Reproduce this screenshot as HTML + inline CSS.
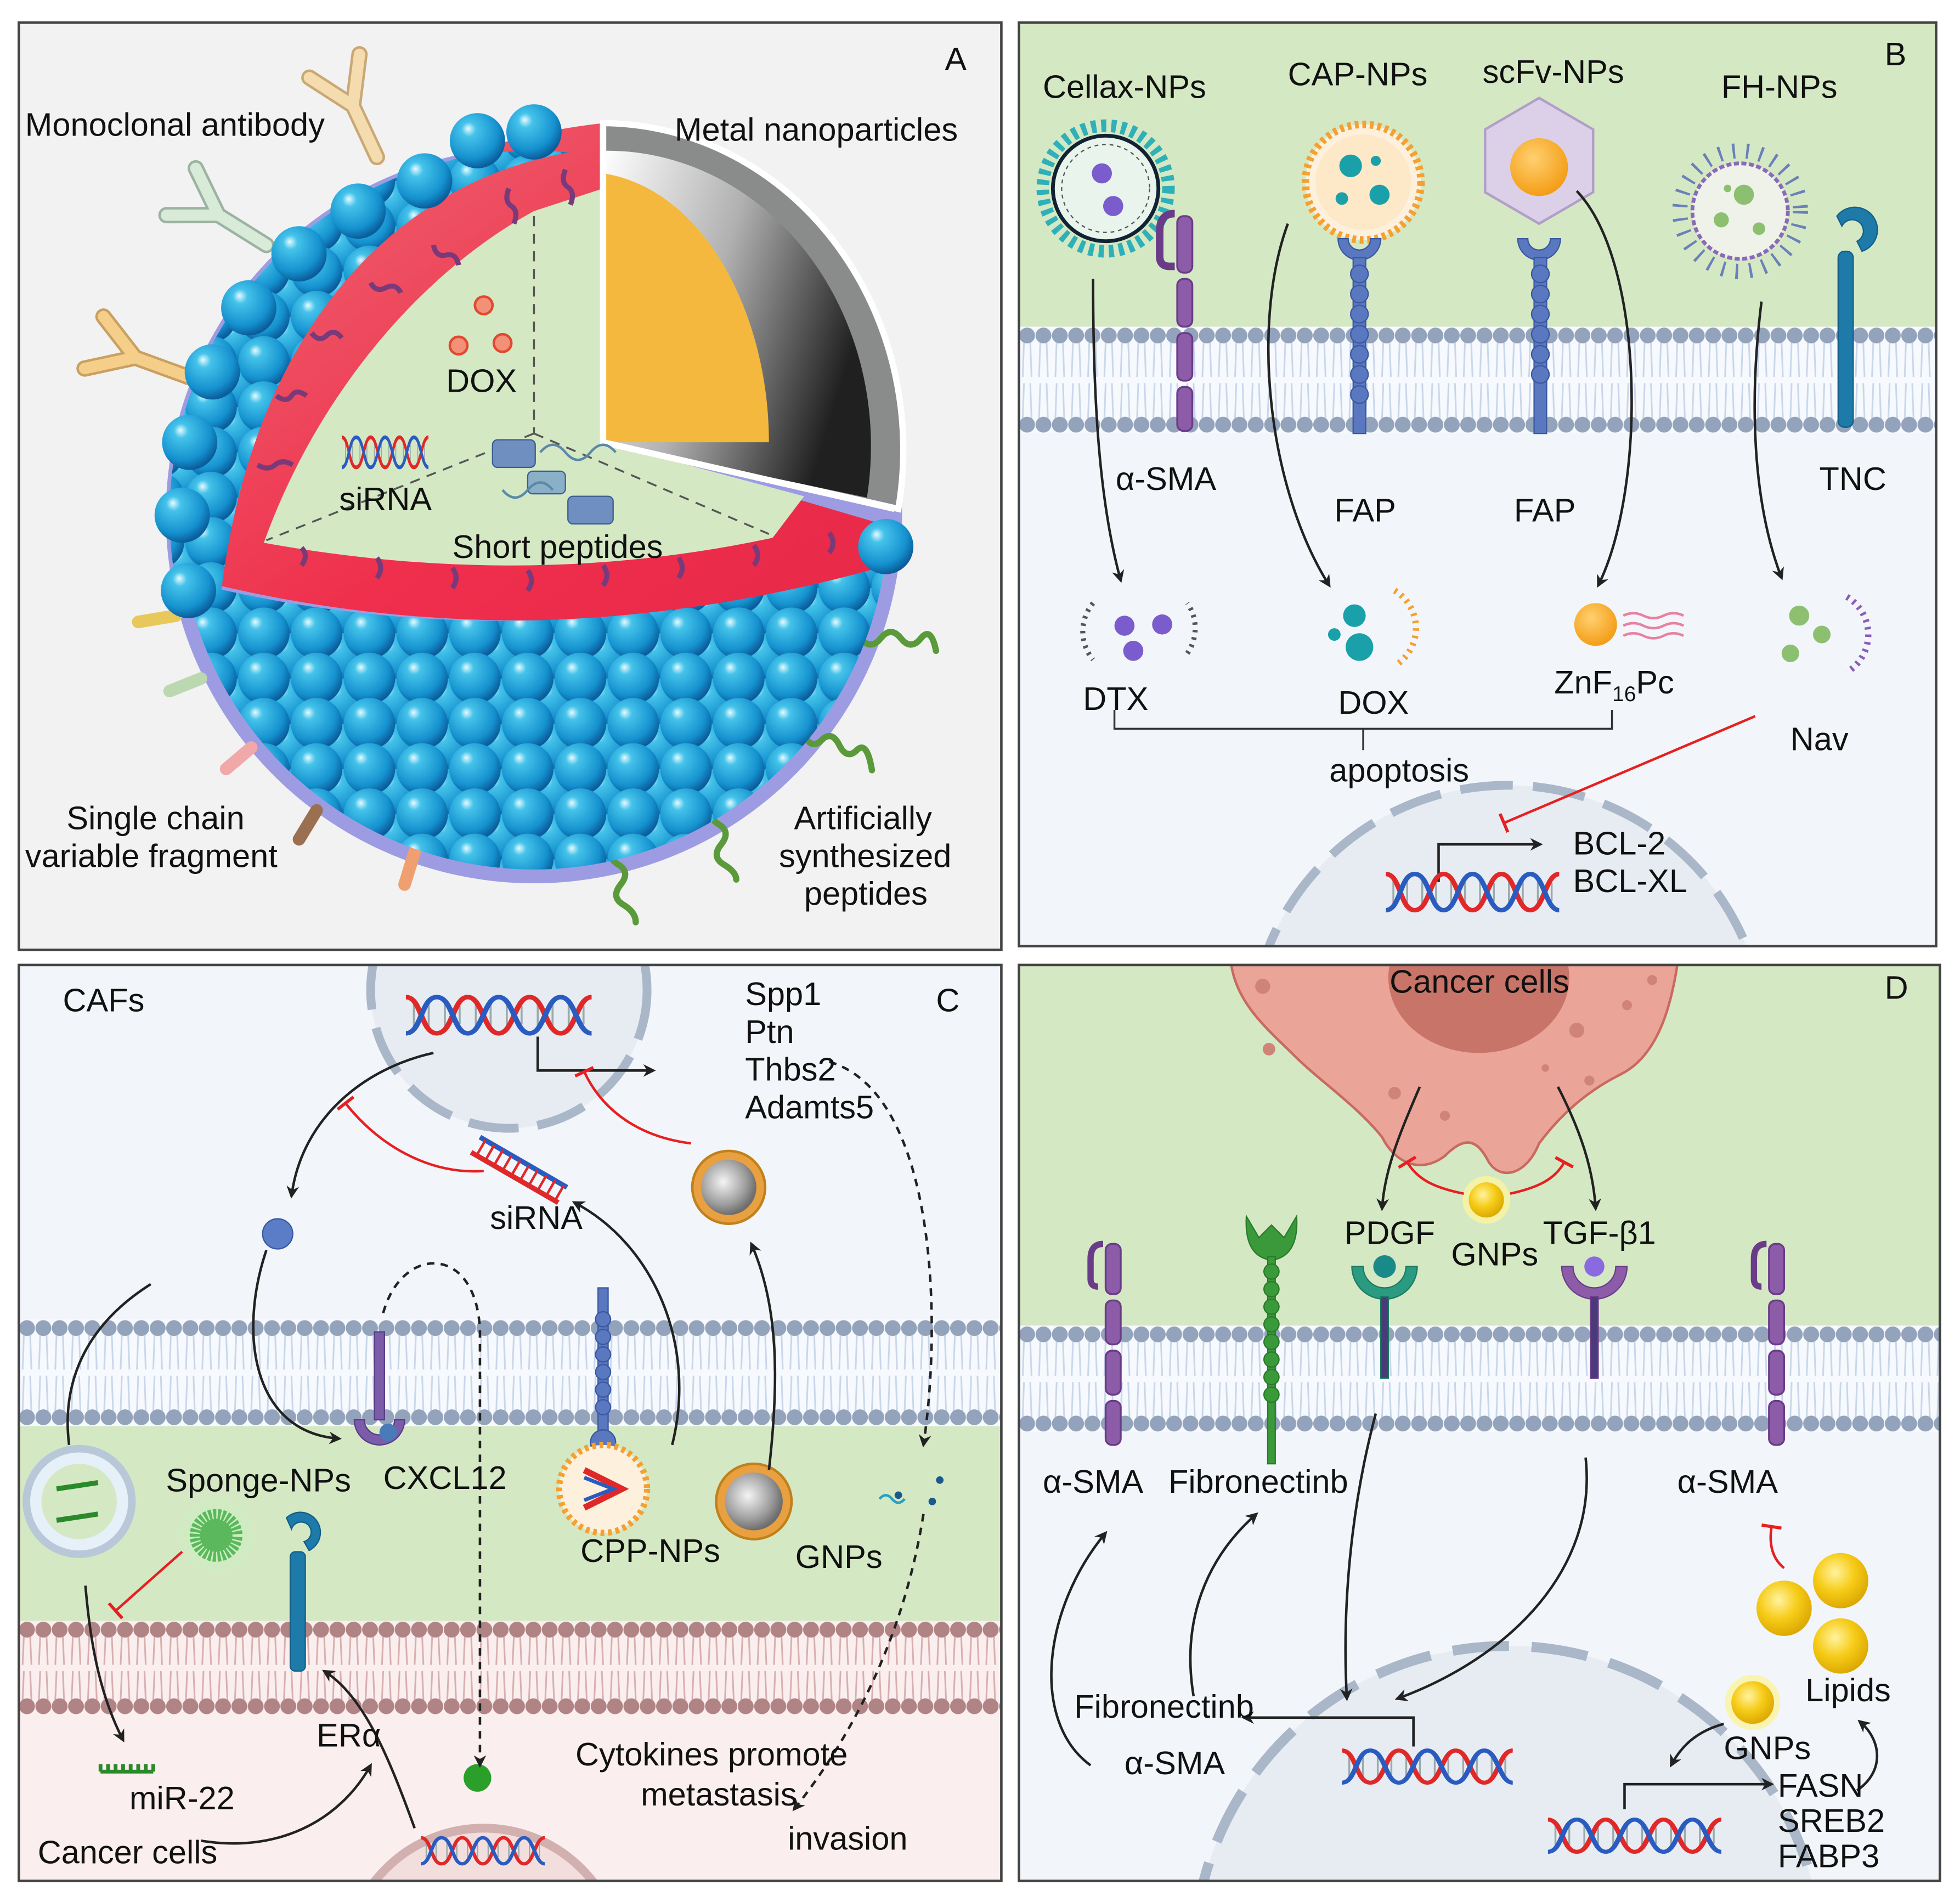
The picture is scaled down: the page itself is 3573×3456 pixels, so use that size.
<!DOCTYPE html>
<html><head><meta charset="utf-8"><style>
html,body{margin:0;padding:0;background:#fff;width:3573px;height:3456px;overflow:hidden}
svg{display:block;position:absolute;left:0;top:0}
text{font-family:"Liberation Sans",sans-serif;fill:#111;font-size:26px}
</style></head><body>
<svg width="3573" height="3456" viewBox="0 0 1560 1509" preserveAspectRatio="none" xmlns="http://www.w3.org/2000/svg">
<defs>
<radialGradient id="bg" cx="0.4" cy="0.35" r="0.65" fx="0.33" fy="0.28"><stop offset="0" stop-color="#e8fbff"/><stop offset="0.2" stop-color="#45c3ea"/><stop offset="0.75" stop-color="#1592cf"/><stop offset="1" stop-color="#0b5d9c"/></radialGradient>
<pattern id="balls" patternUnits="userSpaceOnUse" width="42" height="36" x="0" y="0">
<circle cx="21" cy="18" r="20.5" fill="url(#bg)"/><circle cx="0" cy="0" r="20.5" fill="url(#bg)"/><circle cx="42" cy="0" r="20.5" fill="url(#bg)"/><circle cx="0" cy="36" r="20.5" fill="url(#bg)"/><circle cx="42" cy="36" r="20.5" fill="url(#bg)"/>
</pattern>
<pattern id="memB" patternUnits="userSpaceOnUse" width="13" height="85">
<rect width="13" height="85" fill="#f6f9fd"/>
<path d="M4 12 L3 40 M9 12 L10 40 M4 45 L3 73 M9 45 L10 73" stroke="#c9d6ea" stroke-width="1.3" fill="none"/>
<circle cx="6.5" cy="7" r="6.3" fill="#93a3bb"/><circle cx="6.5" cy="78" r="6.3" fill="#93a3bb"/>
</pattern>
<pattern id="memP" patternUnits="userSpaceOnUse" width="13" height="75">
<rect width="13" height="75" fill="#fbeeee"/>
<path d="M4 12 L3 35 M9 12 L10 35 M4 40 L3 63 M9 40 L10 63" stroke="#d7aeae" stroke-width="1.3" fill="none"/>
<circle cx="6.5" cy="7" r="6.3" fill="#b08484"/><circle cx="6.5" cy="68" r="6.3" fill="#b08484"/>
</pattern>
<linearGradient id="redg" x1="0" y1="0" x2="1" y2="1"><stop offset="0" stop-color="#ee6a74"/><stop offset="0.6" stop-color="#ef2f4c"/><stop offset="1" stop-color="#e82848"/></linearGradient>
<linearGradient id="metal" x1="0" y1="0" x2="1" y2="0.4"><stop offset="0" stop-color="#ffffff"/><stop offset="0.5" stop-color="#b0b0b0"/><stop offset="1" stop-color="#202020"/></linearGradient>
<radialGradient id="gold" cx="0.4" cy="0.35" r="0.7"><stop offset="0" stop-color="#fff3a0"/><stop offset="0.5" stop-color="#f6cc18"/><stop offset="1" stop-color="#d9a400"/></radialGradient>
<radialGradient id="orng" cx="0.4" cy="0.35" r="0.7"><stop offset="0" stop-color="#ffd070"/><stop offset="1" stop-color="#f39a10"/></radialGradient>
<radialGradient id="gnp" cx="0.4" cy="0.4" r="0.6"><stop offset="0" stop-color="#f4f4f4"/><stop offset="0.7" stop-color="#9c9c9c"/><stop offset="1" stop-color="#6e6e6e"/></radialGradient>
<marker id="ar" markerWidth="10" markerHeight="10" refX="8" refY="5" orient="auto" markerUnits="userSpaceOnUse"><path d="M0,0 L10,5 L0,10 L3,5 Z" fill="#222"/></marker>
<marker id="tr" markerWidth="4" markerHeight="16" refX="2" refY="8" orient="auto" markerUnits="userSpaceOnUse"><path d="M2,0 L2,16" stroke="#e62020" stroke-width="2.5"/></marker>
<symbol id="dna" viewBox="0 0 140 40" preserveAspectRatio="none">
<g stroke="#9aa" stroke-width="1.5"><path d="M6 10V30M17 6V34M29 8V32M40 12V28M52 10V30M63 6V34M75 8V32M86 12V28M98 10V30M109 6V34M121 8V32M132 12V28"/></g>
<path d="M0,4 C12,4 11,36 23,36 S35,4 46,4 S58,36 69,36 S81,4 92,4 S104,36 115,36 S127,4 138,4" fill="none" stroke="#e02828" stroke-width="4"/>
<path d="M0,36 C12,36 11,4 23,4 S35,36 46,36 S58,4 69,4 S81,36 92,36 S104,4 115,4 S127,36 138,36" fill="none" stroke="#2a5bc0" stroke-width="4"/>
</symbol>
<clipPath id="cA"><rect x="15" y="18" width="782" height="738"/></clipPath>
<clipPath id="cB"><rect x="811" y="18" width="730" height="735"/></clipPath>
<clipPath id="cC"><rect x="15" y="768" width="782" height="729"/></clipPath>
<clipPath id="cD"><rect x="811" y="768" width="733" height="729"/></clipPath>
<clipPath id="sph"><circle cx="425" cy="410" r="282"/></clipPath>
<clipPath id="sph2"><circle cx="425" cy="410" r="290"/></clipPath>
</defs>
<rect width="1560" height="1509" fill="#fff"/>

<!-- PANEL A -->
<rect x="15" y="18" width="782" height="738" fill="#f2f2f2" stroke="#444" stroke-width="2"/>
<g clip-path="url(#cA)">
<circle cx="425" cy="410" r="293" fill="#9d9ce2"/>
<g stroke-linecap="round" fill="none">
<g transform="translate(300,125) rotate(-25)" stroke="#c9a875"><path d="M0 0V-45M0-45L-22-80M0-45L22-80" stroke-width="13"/><path d="M0 0V-45M0-45L-22-80M0-45L22-80" stroke="#f5dcae" stroke-width="9"/></g>
<g transform="translate(212,195) rotate(-58)" stroke="#9bb3a0"><path d="M0 0V-45M0-45L-22-80M0-45L22-80" stroke-width="13"/><path d="M0 0V-45M0-45L-22-80M0-45L22-80" stroke="#d8ead8" stroke-width="9"/></g>
<g transform="translate(150,300) rotate(-70)" stroke="#c9a060"><path d="M0 0V-45M0-45L-22-80M0-45L22-80" stroke-width="13"/><path d="M0 0V-45M0-45L-22-80M0-45L22-80" stroke="#f5cf8a" stroke-width="9"/></g>
<path d="M140 490 L110 495" stroke="#e8c85a" stroke-width="10"/>
<path d="M160 540 L135 550" stroke="#bcd8b0" stroke-width="10"/>
<path d="M200 595 L180 612" stroke="#f0a8a8" stroke-width="10"/>
<path d="M252 645 L238 668" stroke="#9a7050" stroke-width="10"/>
<path d="M330 678 L322 704" stroke="#f0a070" stroke-width="10"/>
</g>
<g fill="none" stroke="#5a9a3a" stroke-width="5" stroke-linecap="round">
<path d="M685 508 q8 10 16 0 t16 0 t16 0 t12 10"/>
<path d="M640 585 q6 12 14 4 t14 4 t14 4 t12 16"/>
<path d="M570 640 q-8 10 2 16 t2 16 t2 16 t10 12"/>
<path d="M490 672 q-8 10 2 16 t2 16 t2 16 t10 14"/>
</g>
<path d="M150,445 C150,250 280,120 480,98 L480,352 L712,420 L705,455 Q420,530 150,460 Z" fill="url(#redg)"/>
<!-- upper-left ball region -->
<path d="M100,480 L100,60 L480,60 L480,118 C330,130 200,250 175,480 Z" fill="url(#balls)" clip-path="url(#sph2)"/>
<path d="M425,168 L480,150 L480,352 L640,395 L615,428 Q420,470 210,432 C250,320 330,220 425,168 Z" fill="#d5e8c4"/>
<g stroke="#555" stroke-dasharray="8 6" stroke-width="1.5"><path d="M425,172V345M425,345L212,430M425,345L612,425"/></g>
<g fill="none" stroke="#7a3a7a" stroke-width="4">
<path d="M205 370 q8 5 14 0 t14 0"/><path d="M220 315 q8 6 12 0 t12 0"/><path d="M248 265 q6 8 12 2 t12 2"/><path d="M295 225 q4 8 12 4 t12 4"/><path d="M345 195 q2 10 10 8 t10 8"/><path d="M405 150 q-4 10 2 14 t2 14"/><path d="M450 135 q-4 10 2 14 t2 14"/>
<path d="M240 450 q6 -8 0 -14"/><path d="M300 460 q6 -8 0 -16"/><path d="M360 468 q6 -8 0 -16"/><path d="M420 470 q6 -8 0 -16"/><path d="M480 466 q6 -8 0 -16"/><path d="M540 460 q6 -8 0 -16"/><path d="M600 450 q6 -8 0 -16"/><path d="M660 440 q6 -8 0 -16"/>
</g>
<path d="M480,98 A240,260 0 0 1 715,405 L480,352 Z" fill="#8a8c8c" stroke="#fff" stroke-width="5"/>
<path d="M480,120 A210,235 0 0 1 690,396 L480,352 Z" fill="url(#metal)"/>
<path d="M480,138 C560,150 612,250 612,352 L480,352 Z" fill="#f4b83e"/>
<path d="M480,98 V352 L712,405" fill="none" stroke="#fff" stroke-width="5"/>
<path d="M120,455 Q420,540 740,440 L740,740 L120,740 Z" fill="url(#balls)" clip-path="url(#sph)"/>
<g fill="url(#bg)">
<circle cx="150" cy="470" r="22"/><circle cx="145" cy="410" r="22"/><circle cx="151" cy="352" r="22"/><circle cx="169" cy="296" r="22"/><circle cx="198" cy="245" r="22"/><circle cx="238" cy="202" r="22"/><circle cx="285" cy="168" r="22"/><circle cx="338" cy="144" r="22"/><circle cx="380" cy="112" r="22"/><circle cx="425" cy="105" r="22"/>
<circle cx="705" cy="435" r="22"/>
</g>
<g fill="#f39078" stroke="#e04a30" stroke-width="2"><circle cx="385" cy="243" r="7"/><circle cx="365" cy="275" r="7"/><circle cx="400" cy="273" r="7"/></g>
<use href="#dna" x="272" y="345" width="70" height="30"/>
<g fill="#6e8fc0" stroke="#3c5e90" stroke-width="1"><rect x="392" y="350" width="34" height="22" rx="4"/><rect x="452" y="395" width="36" height="22" rx="4"/><rect x="420" y="375" width="30" height="18" rx="4" fill="#8ab0c8"/></g>
<path d="M430 360 q10 -12 20 0 t20 0 t20 0 M400 390 q10 12 20 0 t20 0" fill="none" stroke="#5a8aa8" stroke-width="2"/>
<text x="752" y="56">A</text>
<text x="20" y="108">Monoclonal antibody</text>
<text x="537" y="112">Metal nanoparticles</text>
<text x="355" y="312">DOX</text>
<text x="270" y="406">siRNA</text>
<text x="360" y="444">Short peptides</text>
<text x="53" y="660">Single chain</text>
<text x="20" y="690">variable fragment</text>
<text x="632" y="660">Artificially</text>
<text x="620" y="690">synthesized</text>
<text x="640" y="720">peptides</text>
</g>

<!-- PANEL B -->
<g clip-path="url(#cB)">
<rect x="811" y="18" width="730" height="735" fill="#f2f6fa"/>
<rect x="811" y="18" width="730" height="250" fill="#d5e8c4"/>
<g transform="translate(811,260)"><rect width="730" height="85" fill="url(#memB)"/></g>
<circle cx="1200" cy="830" r="205" fill="#e6ecf2" stroke="#a9b7c8" stroke-width="7" stroke-dasharray="42 16"/>
<circle cx="880" cy="150" r="50" fill="none" stroke="#2fb0b8" stroke-width="10" stroke-dasharray="4 4"/>
<circle cx="880" cy="150" r="42" fill="#e8f4ec" stroke="#123" stroke-width="3"/>
<circle cx="880" cy="150" r="35" fill="none" stroke="#555" stroke-width="1" stroke-dasharray="3 3"/>
<circle cx="877" cy="138" r="8" fill="#7a5ccc"/><circle cx="886" cy="164" r="8" fill="#7a5ccc"/>
<g fill="#8c5ca8" stroke="#6a3c88" stroke-width="1.5"><path d="M935 170 q-12 0 -12 14 v20 q0 8 8 8 h4" fill="none" stroke-width="6"/><rect x="937" y="172" width="12" height="45" rx="5"/><rect x="937" y="222" width="12" height="38" rx="5"/><rect x="937" y="265" width="12" height="38" rx="5"/><rect x="937" y="308" width="12" height="35" rx="5"/></g>
<circle cx="1085" cy="145" r="46" fill="#fdf0dc" stroke="#f5a030" stroke-width="6" stroke-dasharray="3 3"/>
<circle cx="1085" cy="145" r="38" fill="#fde8c8"/>
<g fill="#1aa0a8"><circle cx="1075" cy="132" r="9"/><circle cx="1098" cy="155" r="8"/><circle cx="1068" cy="158" r="5"/><circle cx="1095" cy="128" r="4"/></g>
<g fill="#5a78c0" stroke="#3a58a0"><path d="M1065 190 a17 17 0 0 0 34 0 h-8 a9 9 0 0 1 -18 0 z"/><rect x="1077" y="205" width="10" height="140"/>
<circle cx="1082" cy="218" r="7"/><circle cx="1082" cy="234" r="7"/><circle cx="1082" cy="250" r="7"/><circle cx="1082" cy="266" r="7"/><circle cx="1082" cy="282" r="7"/><circle cx="1082" cy="298" r="7"/><circle cx="1082" cy="314" r="7"/></g>
<polygon points="1225,78 1268,103 1268,153 1225,178 1182,153 1182,103" fill="#dcd0e8" stroke="#b0a0c8" stroke-width="2"/>
<circle cx="1225" cy="133" r="23" fill="url(#orng)"/>
<g fill="#5a78c0" stroke="#3a58a0"><path d="M1208 190 a17 17 0 0 0 34 0 h-8 a9 9 0 0 1 -18 0 z"/><rect x="1221" y="205" width="10" height="140"/>
<circle cx="1226" cy="218" r="7"/><circle cx="1226" cy="234" r="7"/><circle cx="1226" cy="250" r="7"/><circle cx="1226" cy="266" r="7"/><circle cx="1226" cy="282" r="7"/><circle cx="1226" cy="298" r="7"/></g>
<circle cx="1385" cy="168" r="48" fill="none" stroke="#6a80b8" stroke-width="12" stroke-dasharray="2 9"/>
<circle cx="1385" cy="168" r="38" fill="#eef2e8" stroke="#8a6ab8" stroke-width="3" stroke-dasharray="4 2"/>
<g fill="#8cc070"><circle cx="1388" cy="155" r="8"/><circle cx="1370" cy="175" r="6"/><circle cx="1400" cy="182" r="5"/><circle cx="1375" cy="150" r="3"/></g>
<g fill="#1e7aa8" stroke="#125e88"><path d="M1462 172 a18 18 0 1 1 20 28 l-4 -8 a9 9 0 1 0 -12 -12 z"/><rect x="1463" y="200" width="12" height="140" rx="5"/></g>
<g fill="none" stroke="#222" stroke-width="2" marker-end="url(#ar)">
<path d="M870 222 C870 320 875 400 892 462"/>
<path d="M1025 178 C995 260 1010 390 1058 466"/>
<path d="M1255 152 C1310 210 1310 390 1272 466"/>
<path d="M1402 240 C1392 320 1395 400 1418 460"/>
<path d="M1145 702 V672 H1226"/>
</g>
<g fill="#7a5ccc"><circle cx="895" cy="498" r="8"/><circle cx="925" cy="497" r="8"/><circle cx="902" cy="518" r="8"/></g>
<path d="M870 480 a35 35 0 0 0 0 45 M945 520 a35 35 0 0 0 0 -40" fill="none" stroke="#555" stroke-width="4" stroke-dasharray="2 4"/>
<g fill="#1aa0a8"><circle cx="1078" cy="490" r="9"/><circle cx="1082" cy="515" r="11"/><circle cx="1062" cy="505" r="5"/></g>
<path d="M1110 470 a35 35 0 0 1 0 60" fill="none" stroke="#f5a030" stroke-width="5" stroke-dasharray="2 4"/>
<circle cx="1270" cy="497" r="17" fill="url(#orng)"/>
<g fill="none" stroke="#e880a0" stroke-width="2"><path d="M1292 490 q8 -4 16 0 t16 0 t16 0"/><path d="M1292 498 q8 -4 16 0 t16 0 t16 0"/><path d="M1292 506 q8 -4 16 0 t16 0 t16 0"/></g>
<g fill="#8cc070"><circle cx="1432" cy="490" r="8"/><circle cx="1450" cy="505" r="7"/><circle cx="1425" cy="520" r="7"/></g>
<path d="M1470 475 a35 35 0 0 1 0 60" fill="none" stroke="#8a5cb8" stroke-width="5" stroke-dasharray="2 4"/>
<path d="M887 565 V580 H1283 V565 M1085 580 V597" fill="none" stroke="#333" stroke-width="1.5"/>
<path d="M1397 570 L1197 655" stroke="#e62020" stroke-width="2" marker-end="url(#tr)"/>
<use href="#dna" x="1103" y="692" width="140" height="36"/>
<text x="1500" y="52">B</text>
<text x="830" y="78">Cellax-NPs</text>
<text x="1025" y="68">CAP-NPs</text>
<text x="1180" y="66">scFv-NPs</text>
<text x="1370" y="78">FH-NPs</text>
<text x="888" y="390">α-SMA</text>
<text x="1062" y="415">FAP</text>
<text x="1205" y="415">FAP</text>
<text x="1448" y="390">TNC</text>
<text x="862" y="565">DTX</text>
<text x="1065" y="568">DOX</text>
<text x="1237" y="552">ZnF<tspan font-size="17" dy="6">16</tspan><tspan dy="-6">Pc</tspan></text>
<text x="1425" y="597">Nav</text>
<text x="1058" y="622">apoptosis</text>
<text x="1252" y="680">BCL-2</text>
<text x="1252" y="710">BCL-XL</text>
</g>
<rect x="811" y="18" width="730" height="735" fill="none" stroke="#444" stroke-width="2"/>

<!-- PANEL C -->
<g clip-path="url(#cC)">
<rect x="15" y="768" width="782" height="729" fill="#f2f5fa"/>
<rect x="15" y="1130" width="782" height="165" fill="#d5e8c4"/>
<rect x="15" y="1290" width="782" height="210" fill="#fbeeee"/>
<g transform="translate(15,1050)"><rect width="782" height="85" fill="url(#memB)"/></g>
<g transform="translate(15,1290)"><rect width="782" height="75" fill="url(#memP)"/></g>
<circle cx="405" cy="788" r="110" fill="#e6ecf2" stroke="#a9b7c8" stroke-width="7" stroke-dasharray="40 15"/>
<circle cx="385" cy="1565" r="110" fill="#f3dede" stroke="#d2b0b0" stroke-width="7"/>
<use href="#dna" x="323" y="790" width="150" height="36"/>
<use href="#dna" x="335" y="1460" width="100" height="26"/>
<g transform="translate(382,905) rotate(30)"><path d="M0 0H80M0 14H80" stroke-width="4" stroke="#2a5bc0"/><path d="M0 14H80" stroke="#e02828" stroke-width="4"/><path d="M5 0V14M13 0V14M21 0V14M29 0V14M37 0V14M45 0V14M53 0V14M61 0V14M69 0V14M77 0V14" stroke="#e02828" stroke-width="2"/></g>
<circle cx="221" cy="982" r="12" fill="#5b7cc6" stroke="#3a58a0"/>
<circle cx="580" cy="945" r="29" fill="#e8a040" stroke="#c0801a" stroke-width="2"/><circle cx="580" cy="945" r="22" fill="url(#gnp)"/>
<circle cx="600" cy="1195" r="30" fill="#e8a040" stroke="#c0801a" stroke-width="2"/><circle cx="600" cy="1195" r="23" fill="url(#gnp)"/>
<g fill="#7a5ca8" stroke="#5a3c88"><rect x="298" y="1060" width="8" height="70"/><path d="M282 1130 a20 20 0 0 0 40 0 h-8 a12 12 0 0 1 -24 0 z"/></g>
<circle cx="309" cy="1140" r="7" fill="#4a7ab8"/>
<g fill="#5a78c0" stroke="#3a58a0"><rect x="476" y="1025" width="8" height="130"/><circle cx="480" cy="1050" r="6"/><circle cx="480" cy="1064" r="6"/><circle cx="480" cy="1078" r="6"/><circle cx="480" cy="1092" r="6"/><circle cx="480" cy="1106" r="6"/><circle cx="480" cy="1120" r="6"/><circle cx="480" cy="1148" r="10"/></g>
<circle cx="480" cy="1185" r="35" fill="#fdf0dc" stroke="#f5a030" stroke-width="5" stroke-dasharray="3 3"/>
<path d="M465 1170 L495 1185 L465 1200" fill="none" stroke="#e02828" stroke-width="5"/><path d="M465 1176 L488 1185 L465 1194" fill="none" stroke="#2a5bc0" stroke-width="3"/>
<circle cx="63" cy="1195" r="42" fill="#e6f0f8" stroke="#b8c8d8" stroke-width="6"/><circle cx="63" cy="1195" r="30" fill="#d5e8c4"/>
<path d="M45 1185 L78 1180 M45 1210 L78 1205" stroke="#2a8a2a" stroke-width="4"/>
<circle cx="172" cy="1222" r="21" fill="#5cb85c"/><circle cx="172" cy="1222" r="21" fill="none" stroke="#c8f0c0" stroke-width="16" stroke-dasharray="1.5 3"/>
<g fill="#1e7aa8" stroke="#125e88"><path d="M228 1208 a16 16 0 1 1 18 26 l-4 -7 a8 8 0 1 0 -10 -10 z"/><rect x="231" y="1235" width="12" height="95" rx="4"/></g>
<circle cx="380" cy="1415" r="11" fill="#2aa02a"/>
<g fill="#1a5a8a"><circle cx="715" cy="1190" r="3"/><circle cx="742" cy="1195" r="3"/><circle cx="748" cy="1178" r="3"/></g>
<path d="M700 1193 q5 -6 10 0 t10 0" fill="none" stroke="#2aa0c0" stroke-width="2"/>
<path d="M80 1410 H122 M80 1404 V1410 M86 1404 V1410 M92 1404V1410 M98 1404V1410 M104 1404V1410 M110 1404V1410 M116 1404V1410 M122 1404V1410" stroke="#2a8a2a" stroke-width="3"/>
<g fill="none" stroke="#222" stroke-width="2" marker-end="url(#ar)">
<path d="M428 825 V852 H520"/>
<path d="M345 838 C290 850 240 890 232 952"/>
<path d="M212 995 C190 1060 200 1140 270 1145"/>
<path d="M535 1150 C555 1070 520 990 457 957"/>
<path d="M612 1170 C620 1100 620 1040 598 990"/>
<path d="M120 1022 C60 1060 50 1110 55 1150" marker-end="none"/>
<path d="M68 1262 C72 1310 80 1350 98 1385"/>
<path d="M330 1455 C310 1400 290 1350 258 1330"/>
<path d="M160 1465 C220 1475 270 1450 295 1405"/>
<path d="M660 845 C745 870 750 1050 735 1150" stroke-dasharray="6 5"/>
<path d="M735 1205 C720 1300 680 1380 632 1440" stroke-dasharray="6 5"/>
<path d="M305 1045 C320 990 380 990 382 1060 L382 1405" stroke-dasharray="6 5"/>
</g>
<g fill="none" stroke="#e62020" stroke-width="2" marker-end="url(#tr)">
<path d="M385 932 C340 935 300 910 275 878"/>
<path d="M550 910 C510 905 480 885 465 853"/>
<path d="M145 1235 L92 1282"/>
</g>
<text x="50" y="805">CAFs</text>
<text x="745" y="805">C</text>
<text x="593" y="800">Spp1</text>
<text x="593" y="830">Ptn</text>
<text x="593" y="860">Thbs2</text>
<text x="593" y="890">Adamts5</text>
<text x="390" y="978">siRNA</text>
<text x="132" y="1187">Sponge-NPs</text>
<text x="305" y="1185">CXCL12</text>
<text x="462" y="1243">CPP-NPs</text>
<text x="633" y="1248">GNPs</text>
<text x="252" y="1390">ERα</text>
<text x="103" y="1440">miR-22</text>
<text x="30" y="1483">Cancer cells</text>
<text x="458" y="1405">Cytokines promote</text>
<text x="510" y="1437">metastasis</text>
<text x="627" y="1472">invasion</text>
</g>
<rect x="15" y="768" width="782" height="729" fill="none" stroke="#444" stroke-width="2"/>

<!-- PANEL D -->
<g clip-path="url(#cD)">
<rect x="811" y="768" width="733" height="729" fill="#f2f5fa"/>
<rect x="811" y="768" width="733" height="295" fill="#d5e8c4"/>
<g transform="translate(811,1055)"><rect width="733" height="85" fill="url(#memB)"/></g>
<path d="M980,768 C985,800 1010,820 1030,840 C1050,860 1080,880 1100,905 C1110,925 1130,935 1150,920 C1165,905 1175,905 1185,925 C1195,940 1215,935 1225,910 C1240,890 1260,870 1290,855 C1320,840 1330,800 1335,768 Z" fill="#eaa598" stroke="#c86a60" stroke-width="2"/>
<ellipse cx="1177" cy="778" rx="72" ry="60" fill="#c87468"/>
<g fill="#d08478"><circle cx="1005" cy="785" r="6"/><circle cx="1010" cy="835" r="5"/><circle cx="1110" cy="870" r="5"/><circle cx="1150" cy="888" r="4"/><circle cx="1255" cy="820" r="6"/><circle cx="1265" cy="860" r="4"/><circle cx="1295" cy="800" r="4"/><circle cx="1315" cy="780" r="4"/><circle cx="1230" cy="850" r="3"/></g>
<circle cx="1200" cy="1560" r="250" fill="#e6ecf2" stroke="#a9b7c8" stroke-width="8" stroke-dasharray="45 18"/>
<circle cx="1183" cy="955" r="19" fill="#fbf4a0" opacity="0.8"/><circle cx="1183" cy="955" r="14" fill="url(#gold)"/>
<g fill="#8c5ca8" stroke="#6a3c88" stroke-width="1.5">
<path d="M878 990 q-10 0 -10 12 v16 q0 6 6 6" fill="none" stroke-width="5"/><rect x="880" y="990" width="12" height="40" rx="5"/><rect x="880" y="1035" width="12" height="35" rx="5"/><rect x="880" y="1075" width="12" height="35" rx="5"/><rect x="880" y="1115" width="12" height="35" rx="5"/>
<path d="M1406 990 q-10 0 -10 12 v16 q0 6 6 6" fill="none" stroke-width="5"/><rect x="1408" y="990" width="12" height="40" rx="5"/><rect x="1408" y="1035" width="12" height="35" rx="5"/><rect x="1408" y="1075" width="12" height="35" rx="5"/><rect x="1408" y="1115" width="12" height="35" rx="5"/>
</g>
<g fill="#3a9a3a" stroke="#2a7a2a"><path d="M992 968 L1002 985 L1012 975 L1022 985 L1032 968 Q1034 1000 1012 1003 Q990 1000 992 968 Z"/><rect x="1009" y="1000" width="6" height="165"/>
<circle cx="1012" cy="1012" r="6"/><circle cx="1012" cy="1026" r="6"/><circle cx="1012" cy="1040" r="6"/><circle cx="1012" cy="1054" r="6"/><circle cx="1012" cy="1068" r="6"/><circle cx="1012" cy="1082" r="6"/><circle cx="1012" cy="1096" r="6"/><circle cx="1012" cy="1110" r="6"/></g>
<g fill="#2a9a80" stroke="#1a7a60"><path d="M1076 1008 a26 26 0 0 0 52 0 h-9 a17 17 0 0 1 -34 0 z"/><rect x="1099" y="1032" width="6" height="65" fill="#4a3a7a"/></g>
<circle cx="1102" cy="1008" r="9" fill="#1a8a88"/>
<g fill="#8c5ca8" stroke="#6a3c88"><path d="M1243 1008 a26 26 0 0 0 52 0 h-9 a17 17 0 0 1 -34 0 z"/><rect x="1266" y="1032" width="6" height="65" fill="#4a3a7a"/></g>
<circle cx="1269" cy="1008" r="8" fill="#8a6ae0"/>
<g><circle cx="1420" cy="1280" r="22" fill="url(#gold)"/><circle cx="1465" cy="1258" r="22" fill="url(#gold)"/><circle cx="1465" cy="1310" r="22" fill="url(#gold)"/></g>
<circle cx="1395" cy="1355" r="22" fill="#fbf4a0" opacity="0.8"/><circle cx="1395" cy="1355" r="17" fill="url(#gold)"/>
<use href="#dna" x="1068" y="1390" width="138" height="32"/>
<use href="#dna" x="1232" y="1445" width="140" height="32"/>
<g fill="none" stroke="#222" stroke-width="2" marker-end="url(#ar)">
<path d="M1130 865 C1115 900 1102 930 1100 962"/>
<path d="M1240 865 C1258 900 1268 930 1270 962"/>
<path d="M1095 1125 C1075 1200 1068 1280 1072 1352"/>
<path d="M1262 1160 C1272 1250 1200 1320 1112 1352"/>
<path d="M1125 1390 V1367 H990"/>
<path d="M868 1405 C820 1370 830 1280 880 1220"/>
<path d="M950 1350 C940 1290 960 1240 1000 1205"/>
<path d="M1372 1372 C1350 1378 1338 1390 1330 1405"/>
<path d="M1293 1440 V1420 H1410"/>
<path d="M1478 1425 C1500 1410 1498 1385 1480 1370"/>
</g>
<g fill="none" stroke="#e62020" stroke-width="2" marker-end="url(#tr)">
<path d="M1165 950 C1140 945 1128 938 1120 925"/>
<path d="M1202 950 C1225 945 1238 938 1245 925"/>
<path d="M1420 1248 C1410 1240 1408 1228 1410 1215"/>
</g>
<text x="1106" y="790">Cancer cells</text>
<text x="1500" y="795">D</text>
<text x="1070" y="990">PDGF</text>
<text x="1155" y="1007">GNPs</text>
<text x="1228" y="990">TGF-β1</text>
<text x="830" y="1188">α-SMA</text>
<text x="930" y="1188">Fibronectinb</text>
<text x="1335" y="1188">α-SMA</text>
<text x="855" y="1367" font-size="23">Fibronectinb</text>
<text x="895" y="1412">α-SMA</text>
<text x="1437" y="1354">Lipids</text>
<text x="1372" y="1400">GNPs</text>
<text x="1415" y="1430" font-size="22">FASN</text>
<text x="1415" y="1458" font-size="22">SREB2</text>
<text x="1415" y="1486" font-size="22">FABP3</text>
</g>
<rect x="811" y="768" width="733" height="729" fill="none" stroke="#444" stroke-width="2"/>
</svg>
</body></html>
